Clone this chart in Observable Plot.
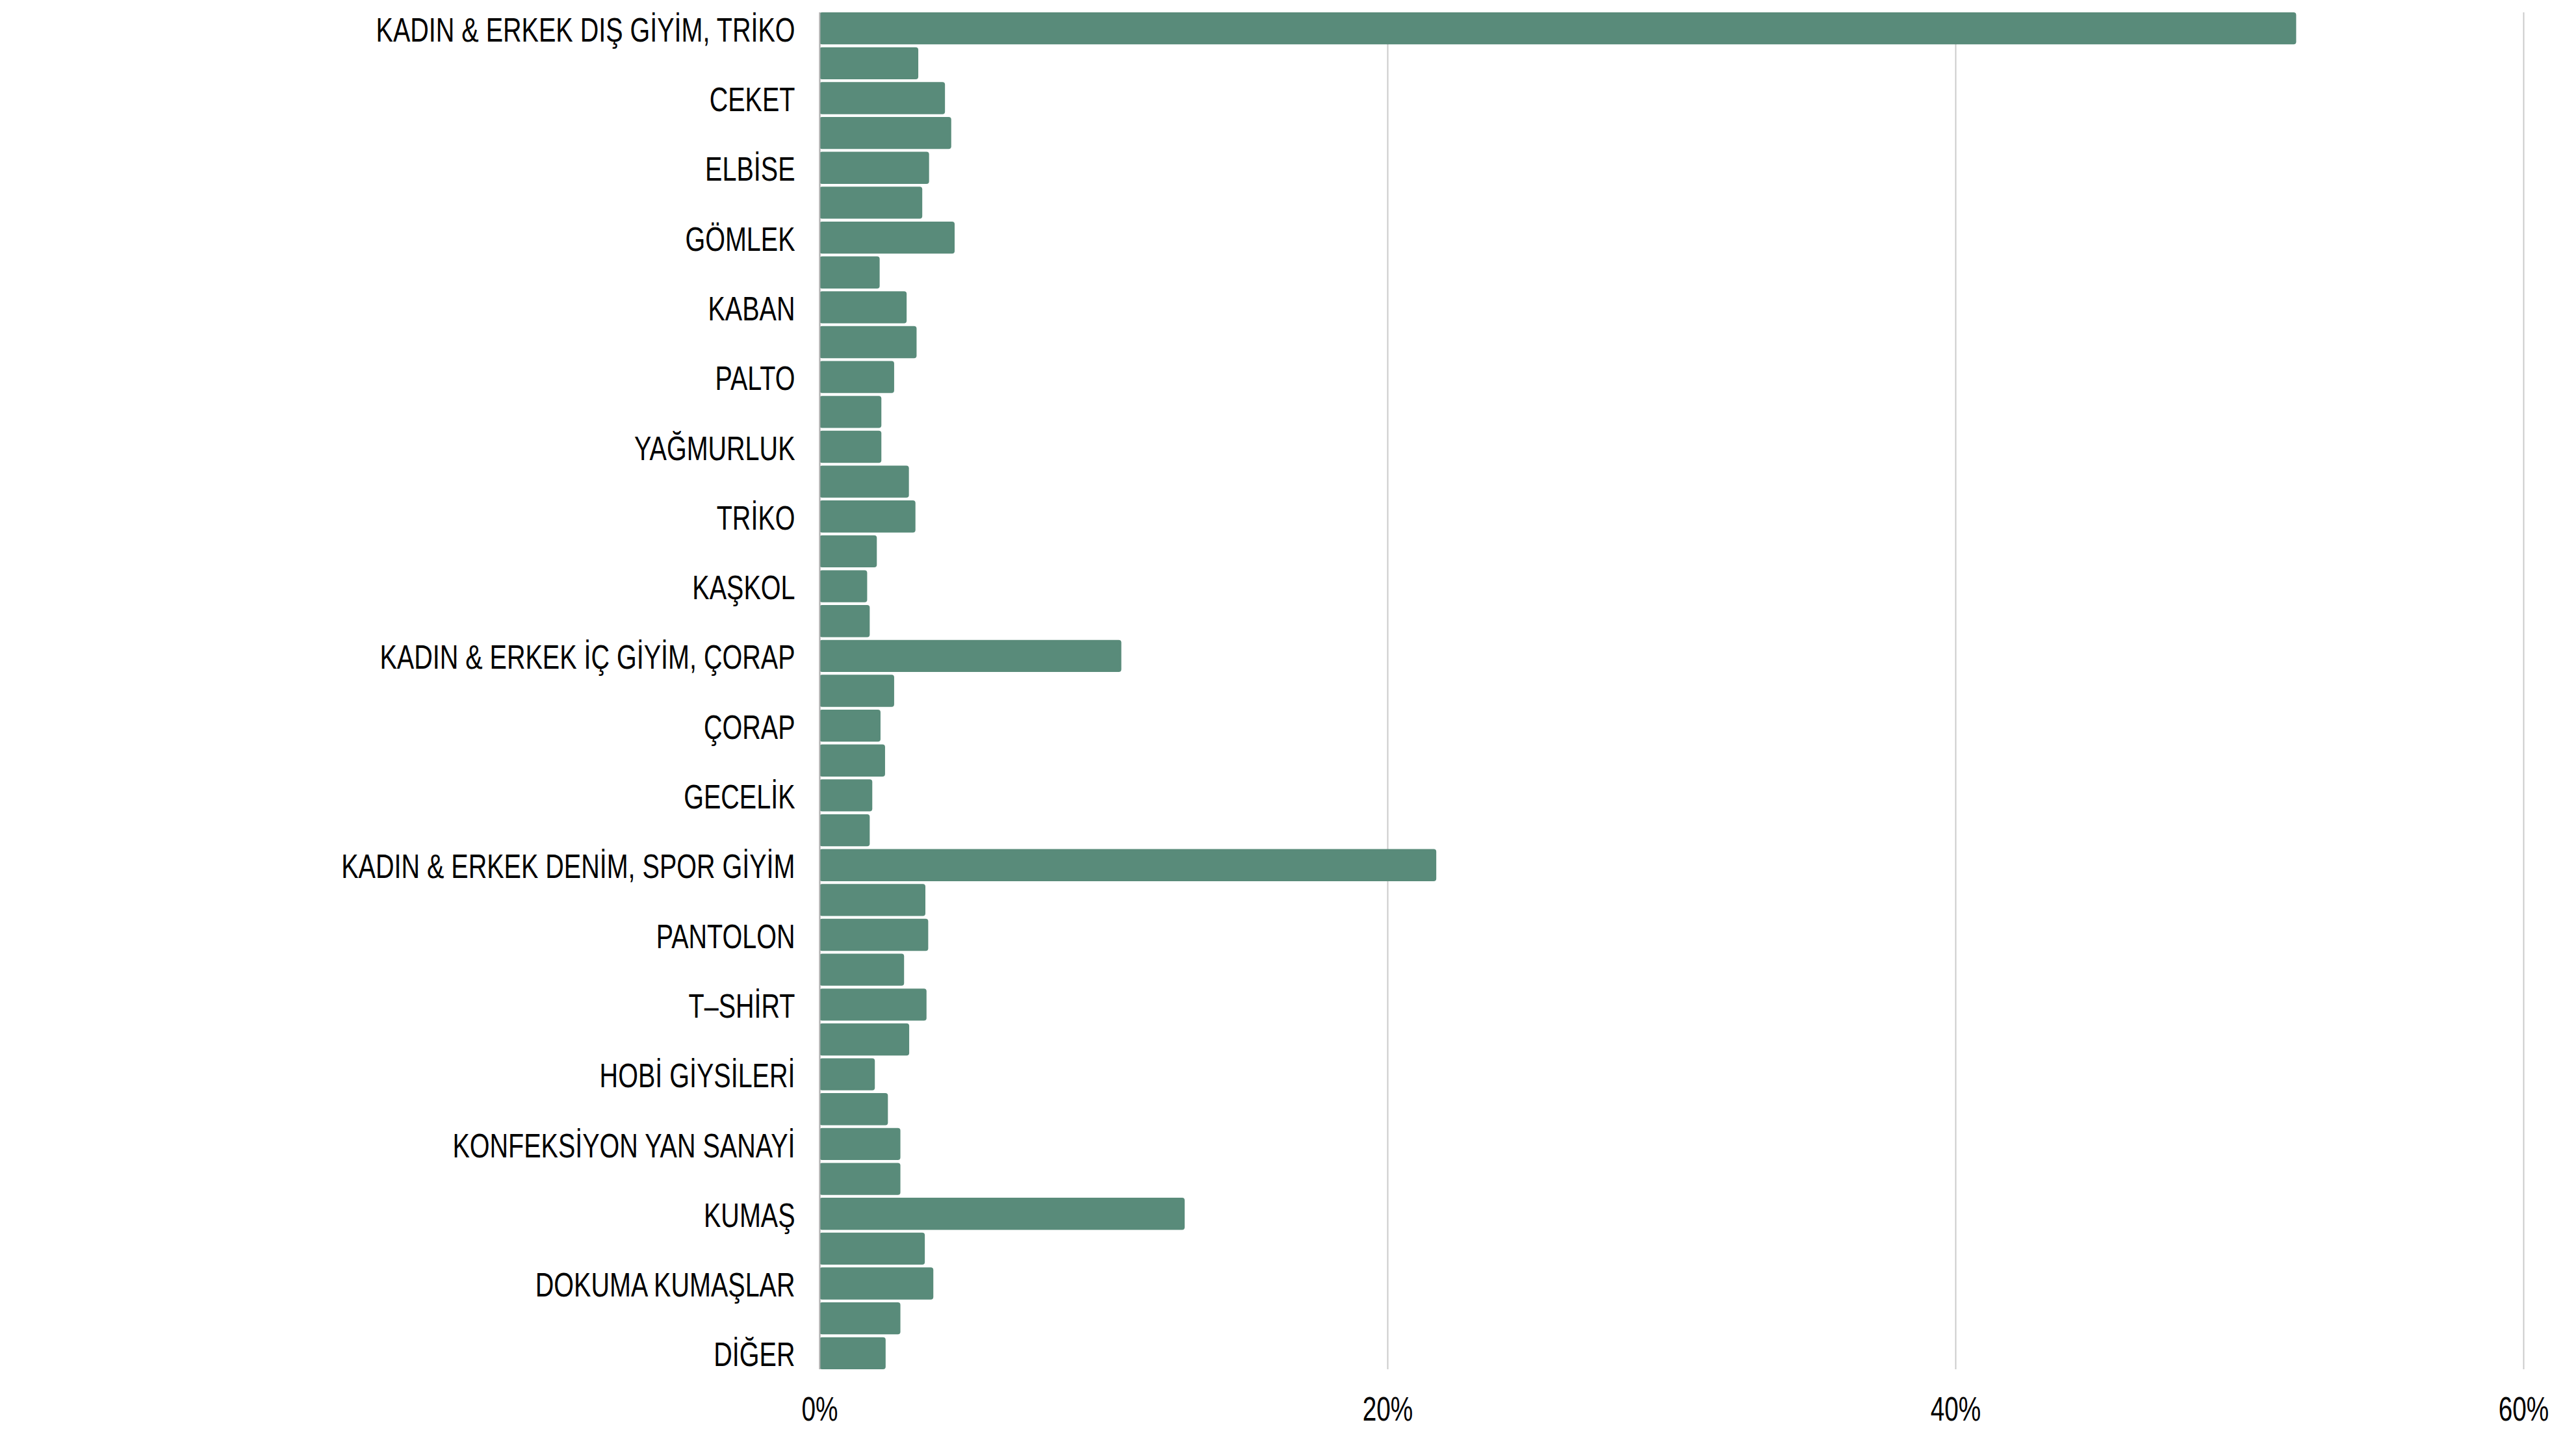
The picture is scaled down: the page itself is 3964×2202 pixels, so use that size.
<!DOCTYPE html>
<html>
<head>
<meta charset="utf-8">
<script src="https://cdn.jsdelivr.net/npm/d3@7"></script>
<script src="https://cdn.jsdelivr.net/npm/@observablehq/plot@0.6"></script>
<style>
  html, body { margin: 0; padding: 0; background: #fff; }
</style>
</head>
<body>
<div id="chart"></div>
<script>
// Labels shown on the y axis (every other row carries a label)
const labels = [
  "KADIN & ERKEK DIŞ GİYİM, TRİKO",
  "CEKET",
  "ELBİSE",
  "GÖMLEK",
  "KABAN",
  "PALTO",
  "YAĞMURLUK",
  "TRİKO",
  "KAŞKOL",
  "KADIN & ERKEK İÇ GİYİM, ÇORAP",
  "ÇORAP",
  "GECELİK",
  "KADIN & ERKEK DENİM, SPOR GİYİM",
  "PANTOLON",
  "T–SHİRT",
  "HOBİ GİYSİLERİ",
  "KONFEKSİYON YAN SANAYİ",
  "KUMAŞ",
  "DOKUMA KUMAŞLAR",
  "DİĞER"
];

// Share (%) for each of the 39 rows, top to bottom
const values = [
  52.0, 3.48, 4.42, 4.64, 3.86, 3.62, 4.76, 2.12, 3.07, 3.42,
  2.63, 2.18, 2.18, 3.15, 3.38, 2.02, 1.68, 1.77, 10.63, 2.63,
  2.15, 2.31, 1.86, 1.77, 21.72, 3.73, 3.83, 2.98, 3.77, 3.16,
  1.95, 2.41, 2.85, 2.85, 12.86, 3.71, 4.01, 2.85, 2.33
];

const xTicks = [0, 20, 40, 60];

const rows = values.map((v, i) => ({ i, v }));
const rowIndex = d3.range(values.length);
const labeledRows = rowIndex.filter(i => i % 2 === 0);

const chart = Plot.plot({
  width: 3964,
  height: 2202,
  marginTop: 19,
  marginBottom: 95,
  marginLeft: 1261,
  marginRight: 81,
  style: { fontFamily: "'Liberation Sans', Arial, sans-serif", fontSize: "51px", color: "#000", background: "#fff" },
  x: { domain: [0, 60] },
  y: { domain: rowIndex, paddingInner: 0.08, paddingOuter: 0, round: false },
  marks: [
    Plot.gridX(xTicks, { stroke: "#cbcbcb", strokeOpacity: 1, strokeWidth: 2 }),
    Plot.barX(rows, { x: "v", y: "i", fill: "#598b7a", rx: 4 }),
    Plot.ruleX([0], { stroke: "#b0b0b0", strokeWidth: 2 }),
    Plot.axisX({ ticks: xTicks, tickFormat: d => d + "%", tickSize: 0, tickPadding: 42, fontSize: 51, label: null }),
    Plot.axisY({ ticks: labeledRows, tickFormat: i => labels[i / 2], tickSize: 0, tickPadding: 38, fontSize: 52, dy: 3, label: null })
  ]
});

document.getElementById("chart").appendChild(chart);

// condense tick label glyphs to match the narrow typeface of the reference
const condense = (sel, k) => {
  chart.querySelectorAll(sel).forEach(t => {
    const w = t.getComputedTextLength();
    t.setAttribute("textLength", (w * k).toFixed(1));
    t.setAttribute("lengthAdjust", "spacingAndGlyphs");
  });
};
condense('g[aria-label="y-axis tick label"] text', 0.76);
condense('g[aria-label="x-axis tick label"] text', 0.76);
</script>
</body>
</html>
